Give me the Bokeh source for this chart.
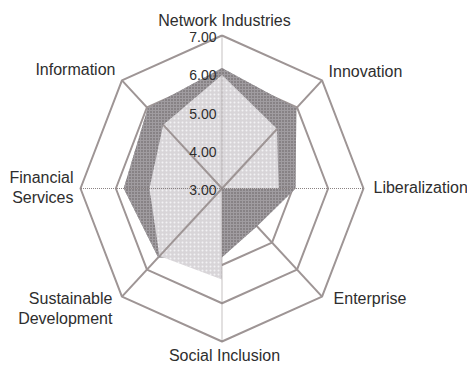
import numpy as np
from bokeh.plotting import figure
from bokeh.models import Range1d
from bokeh.embed import file_html
from bokeh.resources import INLINE
from bokeh.core.properties import value

# ---- data ----
categories = ["Network Industries", "Innovation", "Liberalization", "Enterprise",
              "Social Inclusion", "Sustainable Development", "Financial Services", "Information"]
display_labels = ["Network Industries", "Innovation", "Liberalization", "Enterprise",
                  "Social Inclusion", "Sustainable\nDevelopment", "Financial\nServices", "Information"]
series_dark = [6.15, 5.97, 5.08, 4.40, 4.80, 5.55, 5.78, 5.97]
series_light = [5.97, 5.20, 4.60, 3.00, 5.38, 5.50, 5.05, 5.35]
tick_values = [3.0, 4.0, 5.0, 6.0, 7.0]
tick_labels = ["3.00", "4.00", "5.00", "6.00", "7.00"]
ring_values = [4.0, 5.0, 6.0, 7.0]

vmin, vmax = 3.0, 7.0
n = len(categories)
ang = np.pi / 2 - 2 * np.pi * np.arange(n) / n


def radius(vals):
    return (np.asarray(vals, dtype=float) - vmin) / (vmax - vmin)


def polar(vals):
    r = radius(vals)
    return r * np.cos(ang), r * np.sin(ang)


W, H = 467, 367
cx, cy = 221.5, 188.0
sx, sy = 141.5, 153.0
p = figure(width=W, height=H,
           x_range=Range1d(-cx / sx, (W - cx) / sx),
           y_range=Range1d(-(H - cy) / sy, cy / sy),
           output_backend="svg", toolbar_location=None, min_border=0,
           x_axis_location=None, y_axis_location=None)
p.grid.visible = False
p.outline_line_color = None
p.background_fill_color = "white"
p.border_fill_color = "white"

grid_color = "#9e9595"
FONT = value("Liberation Sans")

# rings
rxs, rys = [], []
for v in ring_values:
    x, y = polar([v] * n)
    rxs.append(list(np.append(x, x[0])))
    rys.append(list(np.append(y, y[0])))
p.multi_line(rxs, rys, line_color=grid_color, line_width=2)

# diagonal spokes (under the fills)
ex, ey = polar([vmax] * n)
diag = [i for i in range(n) if i % 2 == 1]
orth = [i for i in range(n) if i % 2 == 0]
p.segment([0] * len(diag), [0] * len(diag), ex[diag], ey[diag],
          line_color=grid_color, line_width=2)

# filled series
xd, yd = polar(series_dark)
p.patch(xd, yd, fill_color="#878285", line_color=None,
        hatch_pattern="+", hatch_color="#a09ca0", hatch_scale=3, hatch_weight=1)
xl, yl = polar(series_light)
p.patch(xl, yl, fill_color="#d8d5d8", line_color=None,
        hatch_pattern="dot", hatch_color="#f2f2f4", hatch_scale=4, hatch_weight=1)

# diagonal spokes visible across the light area
p.segment([0] * len(diag), [0] * len(diag), xl[diag], yl[diag],
          line_color=grid_color, line_width=2)
# axis spokes (dotted, on top)
p.segment([0] * len(orth), [0] * len(orth), ex[orth], ey[orth],
          line_color="#8a8282", line_width=1, line_dash="1 1")

# category labels
offsets = [(2.5, -15, "center", "alphabetic"),
           (6.5, -9, "left", "alphabetic"),
           (10, -1, "left", "alphabetic"),
           (11.5, 2, "left", "alphabetic"),
           (2.5, 14, "center", "alphabetic"),
           (-9.5, -7, "right", "top"),
           (-7, -19.5, "right", "top"),
           (-6.5, -11, "right", "alphabetic")]
for i, lab in enumerate(display_labels):
    xo, yo, al, bl = offsets[i]
    p.text([ex[i]], [ey[i]], text=[lab], x_offset=xo, y_offset=yo,
           text_align=al, text_baseline=bl, text_font=FONT,
           text_font_size="16px", text_color="#2e2e2e", text_line_height=1.2)

# tick labels along the first (vertical) axis
tr = radius(tick_values)
p.text(tr * np.cos(ang[0]), tr * np.sin(ang[0]), text=tick_labels, x_offset=-5.5, y_offset=1.5,
       text_align="right", text_baseline="middle", text_font=FONT,
       text_font_size="14px", text_color="#2e2e2e")

open("out.html", "w").write(file_html(p, INLINE))
